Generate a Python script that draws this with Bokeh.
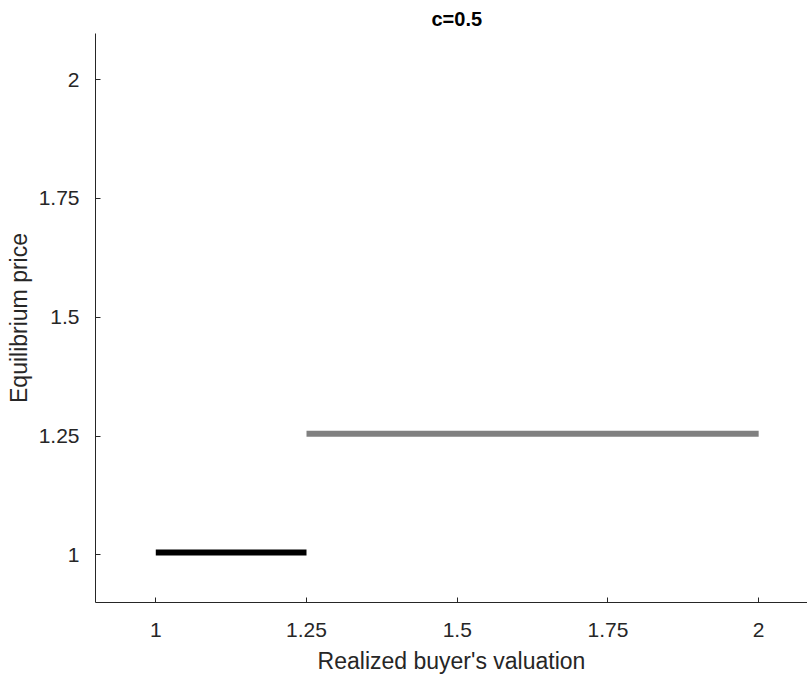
from bokeh.plotting import figure
from bokeh.models import Range1d, FixedTicker, Title
from bokeh.embed import file_html
from bokeh.resources import INLINE

# data
black_x = [1.0, 1.25]
black_y = [1.005, 1.005]
gray_x = [1.25, 2.0]
gray_y = [1.255, 1.255]
x_ticks = [1, 1.25, 1.5, 1.75, 2]
y_ticks = [1, 1.25, 1.5, 1.75, 2]
x_tick_labels = {1: "1", 1.25: "1.25", 1.5: "1.5", 1.75: "1.75", 2: "2"}
y_tick_labels = {1: "1", 1.25: "1.25", 1.5: "1.5", 1.75: "1.75", 2: "2"}

FONT = "Liberation Sans"
TXT = "#262626"

p = figure(width=807, height=677, output_backend="svg", toolbar_location=None,
           x_range=Range1d(0.9, 2.081), y_range=Range1d(0.9, 2.097),
           min_border_left=95, min_border_right=0, min_border_top=33, min_border_bottom=75)
p.title = Title(text="c=0.5", align="left", text_font=FONT, text_font_size="20px",
                text_font_style="bold", text_color="#000000", standoff=8, offset=336)

p.line(black_x, black_y, line_color="#000000", line_width=6)
p.line(gray_x, gray_y, line_color="#808080", line_width=6)

p.outline_line_color = None
p.xgrid.grid_line_color = None
p.ygrid.grid_line_color = None

for ax in (p.xaxis[0], p.yaxis[0]):
    ax.axis_line_color = TXT
    ax.axis_line_width = 1
    ax.major_tick_line_color = TXT
    ax.major_tick_in = 5
    ax.major_tick_out = 0
    ax.minor_tick_line_color = None
    ax.major_label_text_font = FONT
    ax.major_label_text_font_size = "21px"
    ax.major_label_text_color = TXT
    ax.axis_label_text_font = FONT
    ax.axis_label_text_font_size = "23px"
    ax.axis_label_text_font_style = "normal"
    ax.axis_label_text_color = TXT

p.xaxis[0].ticker = FixedTicker(ticks=x_ticks)
p.yaxis[0].ticker = FixedTicker(ticks=y_ticks)
p.xaxis[0].major_label_overrides = x_tick_labels
p.yaxis[0].major_label_overrides = y_tick_labels
p.xaxis[0].axis_label = "Realized buyer's valuation"
p.yaxis[0].axis_label = "Equilibrium price"
p.xaxis[0].major_label_standoff = 20
p.yaxis[0].major_label_standoff = 16
p.xaxis[0].axis_label_standoff = 8
p.yaxis[0].axis_label_standoff = 4

open("out.html", "w").write(file_html(p, INLINE))
